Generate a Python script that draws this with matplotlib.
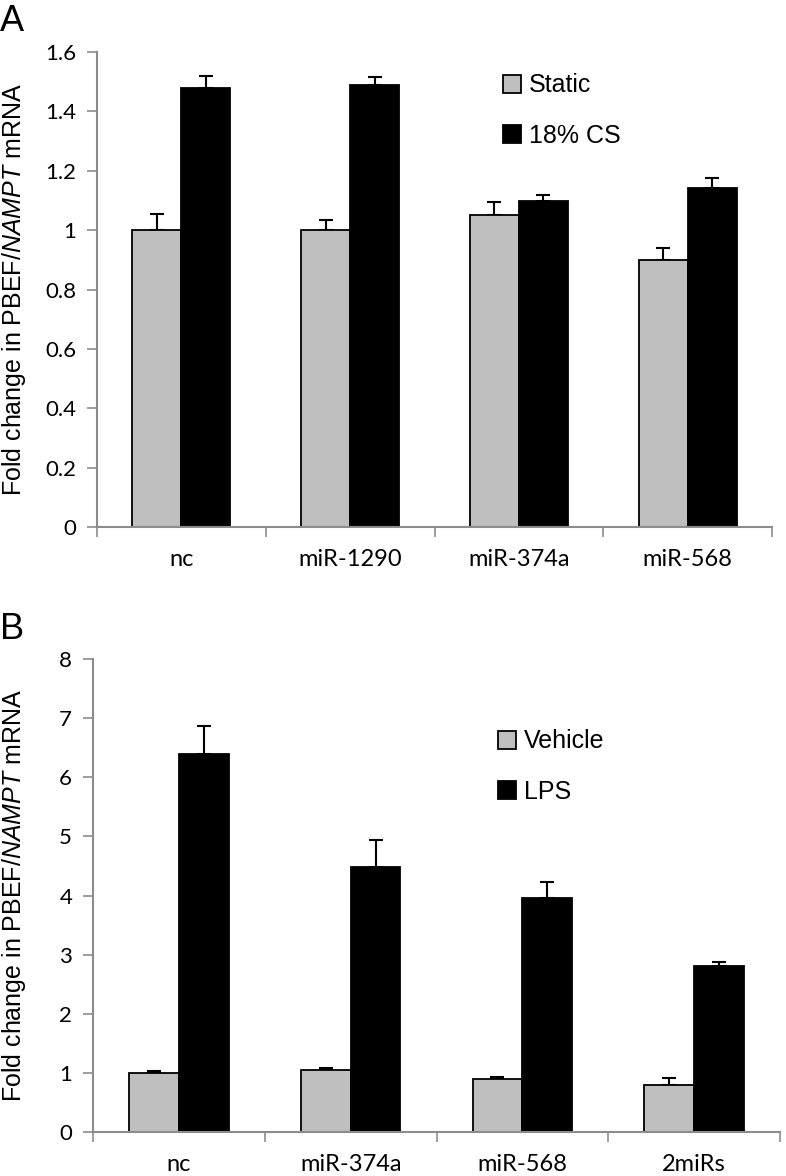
import matplotlib
matplotlib.use("Agg")
import numpy as np
import matplotlib.pyplot as plt
from matplotlib.ticker import FormatStrFormatter

# panel A
cats_a = ["nc", "miR-1290", "miR-374a", "miR-568"]
static = [1.0, 1.0, 1.05, 0.90]
static_err = [0.055, 0.035, 0.045, 0.04]
cs18 = [1.48, 1.49, 1.097, 1.142]
cs18_err = [0.04, 0.025, 0.023, 0.035]

# panel B
cats_b = ["nc", "miR-374a", "miR-568", "2miRs"]
vehicle = [1.0, 1.05, 0.90, 0.80]
vehicle_err = [0.04, 0.04, 0.03, 0.11]
lps = [6.4, 4.49, 3.95, 2.80]
lps_err = [0.47, 0.45, 0.27, 0.07]

GRAY = "#bfbfbf"
SPINE = "#8c8c8c"
TICKFONT = "Lato"
TEXTFONT = "Liberation Sans"

plt.rcParams["mathtext.fontset"] = "custom"
plt.rcParams["mathtext.it"] = "Liberation Sans:italic"
plt.rcParams["mathtext.rm"] = "Liberation Sans"

fig = plt.figure(figsize=(7.86, 11.76), dpi=100)
axA = fig.add_axes([97/786, 1-527/1176, (772-97)/786, (527-52)/1176])
axB = fig.add_axes([93/786, 1-1132/1176, (780-93)/786, (1132-659)/1176])


def draw(ax, cats, v1, e1, v2, e2, ymax, ystep, names, leg_xy):
    x = np.arange(len(cats)) + 0.5
    w = 0.29
    b1 = ax.bar(x - w/2, v1, w, color=GRAY, edgecolor="black", linewidth=1.3, label=names[0], zorder=2)
    b2 = ax.bar(x + w/2, v2, w, color="black", edgecolor="black", linewidth=1.3, label=names[1], zorder=2)
    ax.errorbar(x - w/2, v1, yerr=[np.zeros(len(v1)), e1], fmt="none", ecolor="black",
                elinewidth=1.5, capsize=5, capthick=1.5, zorder=1)
    ax.errorbar(x + w/2, v2, yerr=[np.zeros(len(v2)), e2], fmt="none", ecolor="black",
                elinewidth=1.5, capsize=5, capthick=1.5, zorder=1)
    ax.set_xlim(0, len(cats))
    ax.set_ylim(0, ymax)
    ax.set_yticks(np.arange(0, ymax + ystep/2, ystep))
    ax.yaxis.set_major_formatter(FormatStrFormatter("%g"))
    ax.set_xticks(np.arange(len(cats) + 1))
    ax.set_xticklabels([])
    ax.set_xticks(x, minor=True)
    ax.set_xticklabels(cats, minor=True, fontsize=17, family=TICKFONT)
    ax.tick_params(axis="x", which="minor", length=0, pad=16)
    ax.tick_params(axis="x", which="major", length=7, width=1.2, color=SPINE)
    ax.tick_params(axis="y", length=7, width=1.2, color=SPINE, labelsize=16, pad=8)
    for lab in ax.get_yticklabels():
        lab.set_family(TICKFONT)
    for s in ["top", "right"]:
        ax.spines[s].set_visible(False)
    for s in ["left", "bottom"]:
        ax.spines[s].set_color(SPINE)
        ax.spines[s].set_linewidth(1.5)
    ax.set_ylabel("Fold change in PBEF/$\\mathit{NAMPT}$ mRNA", fontsize=18, family=TEXTFONT)
    ax.legend(handles=[b1, b2], loc="upper left", bbox_to_anchor=leg_xy, bbox_transform=fig.transFigure,
              frameon=False, borderpad=0, handlelength=0.75, handleheight=0.75, handletextpad=0.3,
              labelspacing=1.05, prop={"family": TEXTFONT, "size": 18})


draw(axA, cats_a, static, static_err, cs18, cs18_err, 1.6, 0.2, ["Static", "18% CS"], (490/786, 1-61/1176))
draw(axB, cats_b, vehicle, vehicle_err, lps, lps_err, 8, 1, ["Vehicle", "LPS"], (485/786, 1-717/1176))

axA.yaxis.set_label_coords((28-97)/675, 0.5)
axB.yaxis.set_label_coords((28-93)/687, 0.5)

fig.text(0.0, 1-4/1176, "A", fontsize=26, family=TEXTFONT, va="top", ha="left")
fig.text(0.0, 1-612/1176, "B", fontsize=26, family=TEXTFONT, va="top", ha="left")

fig.savefig("out.png", dpi=100)
